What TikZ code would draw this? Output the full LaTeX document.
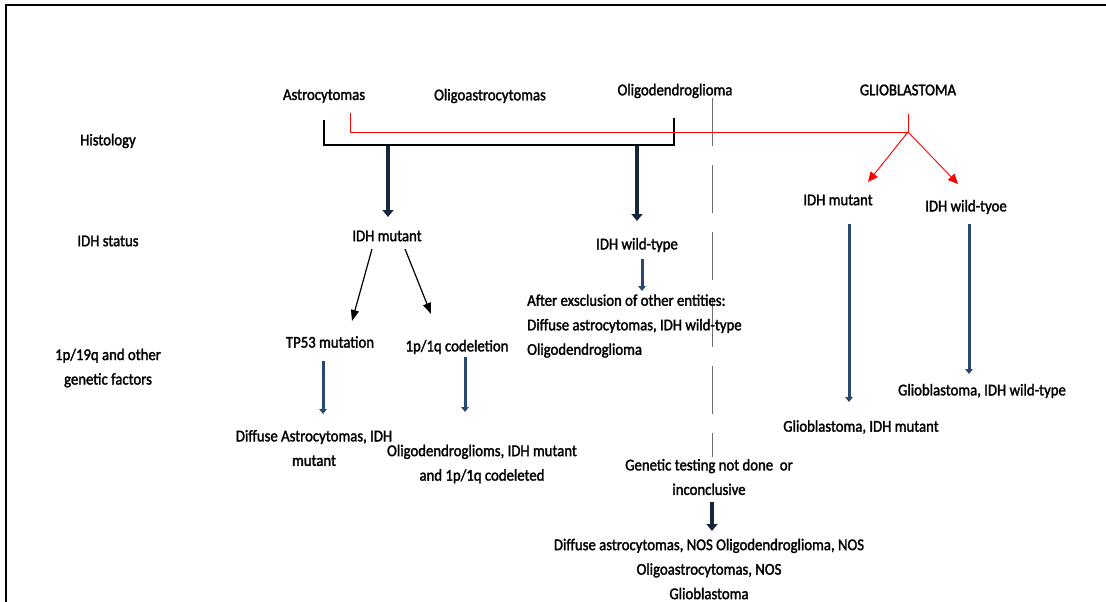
\documentclass[tikz,border=0pt]{standalone}
\usepackage{fontspec}
\setmainfont{Carlito}[FakeStretch=0.9,FakeBold=1.8]
\usetikzlibrary{arrows.meta}
\definecolor{navy}{RGB}{22,38,60}
\definecolor{steel}{RGB}{40,72,110}
\definecolor{dashgray}{RGB}{110,110,110}
\tikzset{
  lbl/.style={inner sep=0pt, font=\fontsize{16.4}{24.5}\selectfont, align=center},
  lblL/.style={lbl, align=left, anchor=west},
  bigarrow/.style={draw=navy, line width=4.5pt, -{Triangle[width=11pt,length=7pt]}},
  bluearrow/.style={draw=steel, line width=3pt, -{Triangle[width=7.5pt,length=5pt]}},
  blkarrow/.style={draw=black, line width=1.2pt, -{Triangle[width=8pt,length=11pt]}},
  redline/.style={draw=red, line width=0.9pt},
  redarrow/.style={redline, -{Triangle[width=9pt,length=10pt]}},
}
\begin{document}
\begin{tikzpicture}[x=1pt,y=-1pt]
\useasboundingbox (0,0) rectangle (1106,602);
% frame
\draw[line width=2pt] (6,602) -- (6,5) -- (1106,5);
% row labels
\node[lbl] (hist) at (108,141) {Histology};
\node[lbl] (idhs) at (108,241) {IDH status};
\node[lbl] (gen) at (108,368) {1p/19q and other\\genetic factors};
% histology
\node[lbl] (astro) at (324,96) {Astrocytomas};
\node[lbl] (oligoastro) at (490,96) {Oligoastrocytomas};
\node[lbl] (oligo) at (675,91) {Oligodendroglioma};
\node[lbl] (gbm) at (908,90) {GLIOBLASTOMA};
% dashed separator
\coordinate (sepT) at (712,98);
\coordinate (sepB) at (712,457);
\draw[dashgray, line width=0.9pt, dash pattern=on 48pt off 19pt] (sepT) -- (sepB);
% bracket
\coordinate (bL) at (324,120);
\coordinate (bR) at (674,118);
\draw[line width=1.5pt] (bL) -- (324,145) -- (674,145) -- (bR);
% red line
\coordinate (rA) at (350,113);
\coordinate (rJ) at (908,132);
\coordinate (rG) at (908,114);
\draw[redline] (rA) -- (350,132) -- (rJ) -- (rG);
% level 2
\node[lbl] (idhm) at (387,236) {IDH mutant};
\node[lbl] (idhw) at (637,245) {IDH wild-type};
\node[lbl] (gidhm) at (838,200) {IDH mutant};
\node[lbl] (gidhw) at (966,207) {IDH wild-tyoe};
\coordinate (m1) at (388,146);
\coordinate (m2) at (637,146);
\draw[bigarrow] (m1) -- (388,217);
\draw[bigarrow] (m2) -- (637,221);
\coordinate (rm) at (868,182);
\coordinate (rw) at (958,184);
\draw[redarrow] (rJ) -- (rm);
\draw[redarrow] (rJ) -- (rw);
% level 3
\node[lbl] (tp53) at (330,342) {TP53 mutation};
\node[lbl] (codel) at (457,347) {1p/1q codeletion};
\draw[blkarrow] (372,249) -- (352,321);
\draw[blkarrow] (405,249) -- (431,314);
\node[lblL] (after) at (527,326) {After exsclusion of other entities:\\Diffuse astrocytomas, IDH wild-type\\Oligodendroglioma};
\draw[bluearrow] (642,259) -- (642,291);
% results
\node[lbl] (dai) at (314,448) {Diffuse Astrocytomas, IDH\\mutant};
\node[lbl] (odi) at (482,464) {Oligodendroglioms, IDH mutant\\and 1p/1q codeleted};
\draw[bluearrow] (323,361) -- (323,414);
\draw[bluearrow] (465,357) -- (465,412);
\node[lbl] (gbmm) at (861,427) {Glioblastoma, IDH mutant};
\node[lbl] (gbmw) at (982,391) {Glioblastoma, IDH wild-type};
\draw[bluearrow] (849,224) -- (849,402);
\draw[bluearrow] (969,224) -- (969,374);
% NOS
\node[lbl] (gt) at (709,477) {Genetic testing not done\ \ or\\inconclusive};
\node[lbl] (nos) at (709,569) {Diffuse astrocytomas, NOS Oligodendroglioma, NOS\\Oligoastrocytomas, NOS\\Glioblastoma};
\draw[bigarrow] (712,502) -- (712,531);
\end{tikzpicture}
\end{document}
